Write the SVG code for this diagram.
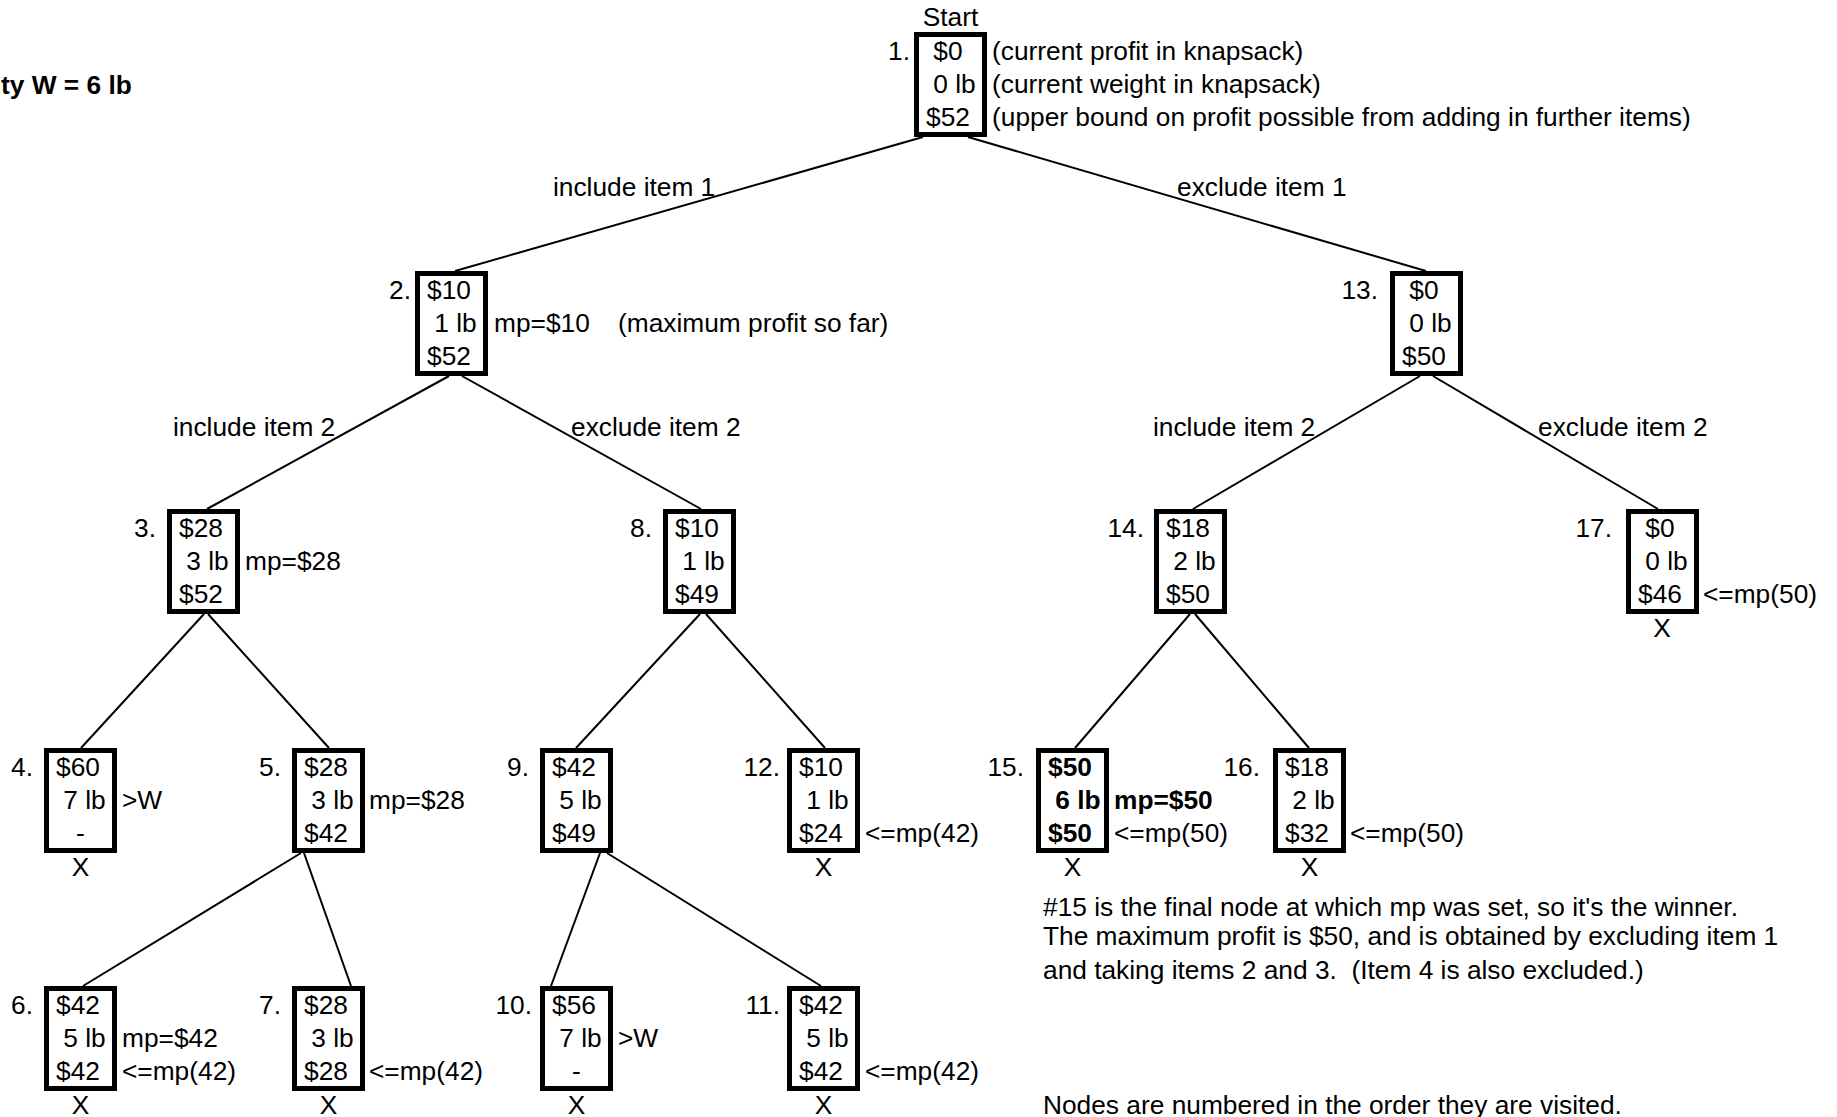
<svg xmlns="http://www.w3.org/2000/svg" width="1837" height="1117" viewBox="0 0 1837 1117">
<style>
text{font-family:"Liberation Sans",Arial,sans-serif;font-size:26.3px;fill:#000}
.b{font-weight:bold}
.m{text-anchor:middle}
.e{text-anchor:end}
.box{fill:#fff;stroke:#000;stroke-width:5}
#edges line{stroke:#000;stroke-width:2}
</style>
<rect width="1837" height="1117" fill="#fff"/>
<text class="b" x="1" y="94">ty W = 6 lb</text>
<g id="edges">
<line x1="923" y1="137" x2="455" y2="271"/>
<line x1="968" y1="137" x2="1426" y2="271"/>
<line x1="449" y1="376" x2="207" y2="509"/>
<line x1="462" y1="376" x2="701" y2="509"/>
<line x1="1420" y1="376" x2="1193" y2="509"/>
<line x1="1433" y1="376" x2="1658" y2="509"/>
<line x1="204" y1="614" x2="81" y2="748"/>
<line x1="208" y1="614" x2="329" y2="748"/>
<line x1="700" y1="614" x2="576" y2="748"/>
<line x1="706" y1="614" x2="825" y2="748"/>
<line x1="1190" y1="614" x2="1075" y2="748"/>
<line x1="1195" y1="614" x2="1309" y2="748"/>
<line x1="301" y1="853" x2="83" y2="986"/>
<line x1="304" y1="853" x2="351" y2="986"/>
<line x1="600" y1="853" x2="551" y2="986"/>
<line x1="607" y1="853" x2="821" y2="986"/>
</g>
<g id="edge-labels">
<text x="553" y="196">include item 1</text>
<text x="1177" y="196">exclude item 1</text>
<text x="173" y="436">include item 2</text>
<text x="571" y="436">exclude item 2</text>
<text x="1153" y="436">include item 2</text>
<text x="1538" y="436">exclude item 2</text>
</g>
<g id="n1">
<text class="m" x="950.5" y="26">Start</text>
<rect class="box" x="916.5" y="34.5" width="68" height="100"/>
<text class="e" x="910" y="60">1.</text>
<text x="926" y="60">&#160;$0</text>
<text x="926" y="93">&#160;0 lb</text>
<text x="926" y="126">$52</text>
<text x="992" y="60">(current profit in knapsack)</text>
<text x="992" y="93">(current weight in knapsack)</text>
<text x="992" y="126">(upper bound on profit possible from adding in further items)</text>
</g>
<g id="n2">
<rect class="box" x="417.5" y="273.5" width="68" height="100"/>
<text class="e" x="411" y="299">2.</text>
<text x="427" y="299">$10</text>
<text x="427" y="332">&#160;1 lb</text>
<text x="427" y="365">$52</text>
<text x="494" y="332">mp=$10</text>
<text x="618" y="332">(maximum profit so far)</text>
</g>
<g id="n13">
<rect class="box" x="1392.5" y="273.5" width="68" height="100"/>
<text class="e" x="1378" y="299">13.</text>
<text x="1402" y="299">&#160;$0</text>
<text x="1402" y="332">&#160;0 lb</text>
<text x="1402" y="365">$50</text>
</g>
<g id="n3">
<rect class="box" x="169.5" y="511.5" width="68" height="100"/>
<text class="e" x="156" y="537">3.</text>
<text x="179" y="537">$28</text>
<text x="179" y="570">&#160;3 lb</text>
<text x="179" y="603">$52</text>
<text x="245" y="570">mp=$28</text>
</g>
<g id="n8">
<rect class="box" x="665.5" y="511.5" width="68" height="100"/>
<text class="e" x="652" y="537">8.</text>
<text x="675" y="537">$10</text>
<text x="675" y="570">&#160;1 lb</text>
<text x="675" y="603">$49</text>
</g>
<g id="n14">
<rect class="box" x="1156.5" y="511.5" width="68" height="100"/>
<text class="e" x="1144" y="537">14.</text>
<text x="1166" y="537">$18</text>
<text x="1166" y="570">&#160;2 lb</text>
<text x="1166" y="603">$50</text>
</g>
<g id="n17">
<rect class="box" x="1628.5" y="511.5" width="68" height="100"/>
<text class="e" x="1612" y="537">17.</text>
<text x="1638" y="537">&#160;$0</text>
<text x="1638" y="570">&#160;0 lb</text>
<text x="1638" y="603">$46</text>
<text x="1703" y="603">&lt;=mp(50)</text>
<text class="m" x="1662" y="637">X</text>
</g>
<g id="n4">
<rect class="box" x="46.5" y="750.5" width="68" height="100"/>
<text class="e" x="33" y="776">4.</text>
<text x="56" y="776">$60</text>
<text x="56" y="809">&#160;7 lb</text>
<text class="m" x="80.5" y="842">-</text>
<text x="122" y="809">&gt;W</text>
<text class="m" x="80.5" y="876">X</text>
</g>
<g id="n5">
<rect class="box" x="294.5" y="750.5" width="68" height="100"/>
<text class="e" x="281" y="776">5.</text>
<text x="304" y="776">$28</text>
<text x="304" y="809">&#160;3 lb</text>
<text x="304" y="842">$42</text>
<text x="369" y="809">mp=$28</text>
</g>
<g id="n9">
<rect class="box" x="542.5" y="750.5" width="68" height="100"/>
<text class="e" x="529" y="776">9.</text>
<text x="552" y="776">$42</text>
<text x="552" y="809">&#160;5 lb</text>
<text x="552" y="842">$49</text>
</g>
<g id="n12">
<rect class="box" x="789.5" y="750.5" width="68" height="100"/>
<text class="e" x="780" y="776">12.</text>
<text x="799" y="776">$10</text>
<text x="799" y="809">&#160;1 lb</text>
<text x="799" y="842">$24</text>
<text x="865" y="842">&lt;=mp(42)</text>
<text class="m" x="823.5" y="876">X</text>
</g>
<g id="n15">
<rect class="box" x="1038.5" y="750.5" width="68" height="100"/>
<text class="e" x="1024" y="776">15.</text>
<text class="b" x="1048" y="776">$50</text>
<text class="b" x="1048" y="809">&#160;6 lb</text>
<text class="b" x="1048" y="842">$50</text>
<text class="b" x="1114" y="809">mp=$50</text>
<text x="1114" y="842">&lt;=mp(50)</text>
<text class="m" x="1072.5" y="876">X</text>
</g>
<g id="n16">
<rect class="box" x="1275.5" y="750.5" width="68" height="100"/>
<text class="e" x="1260" y="776">16.</text>
<text x="1285" y="776">$18</text>
<text x="1285" y="809">&#160;2 lb</text>
<text x="1285" y="842">$32</text>
<text x="1350" y="842">&lt;=mp(50)</text>
<text class="m" x="1309.5" y="876">X</text>
</g>
<g id="n6">
<rect class="box" x="46.5" y="988.5" width="68" height="100"/>
<text class="e" x="33" y="1014">6.</text>
<text x="56" y="1014">$42</text>
<text x="56" y="1047">&#160;5 lb</text>
<text x="56" y="1080">$42</text>
<text x="122" y="1047">mp=$42</text>
<text x="122" y="1080">&lt;=mp(42)</text>
<text class="m" x="80.5" y="1114">X</text>
</g>
<g id="n7">
<rect class="box" x="294.5" y="988.5" width="68" height="100"/>
<text class="e" x="281" y="1014">7.</text>
<text x="304" y="1014">$28</text>
<text x="304" y="1047">&#160;3 lb</text>
<text x="304" y="1080">$28</text>
<text x="369" y="1080">&lt;=mp(42)</text>
<text class="m" x="328.5" y="1114">X</text>
</g>
<g id="n10">
<rect class="box" x="542.5" y="988.5" width="68" height="100"/>
<text class="e" x="532" y="1014">10.</text>
<text x="552" y="1014">$56</text>
<text x="552" y="1047">&#160;7 lb</text>
<text class="m" x="576.5" y="1080">-</text>
<text x="618" y="1047">&gt;W</text>
<text class="m" x="576.5" y="1114">X</text>
</g>
<g id="n11">
<rect class="box" x="789.5" y="988.5" width="68" height="100"/>
<text class="e" x="780" y="1014">11.</text>
<text x="799" y="1014">$42</text>
<text x="799" y="1047">&#160;5 lb</text>
<text x="799" y="1080">$42</text>
<text x="865" y="1080">&lt;=mp(42)</text>
<text class="m" x="823.5" y="1114">X</text>
</g>
<g id="notes">
<text x="1043" y="916">#15 is the final node at which mp was set, so it's the winner.</text>
<text x="1043" y="945">The maximum profit is $50, and is obtained by excluding item 1</text>
<text x="1043" y="979">and taking items 2 and 3.&#160; (Item 4 is also excluded.)</text>
<text x="1043" y="1114">Nodes are numbered in the order they are visited.</text>
</g>
</svg>
